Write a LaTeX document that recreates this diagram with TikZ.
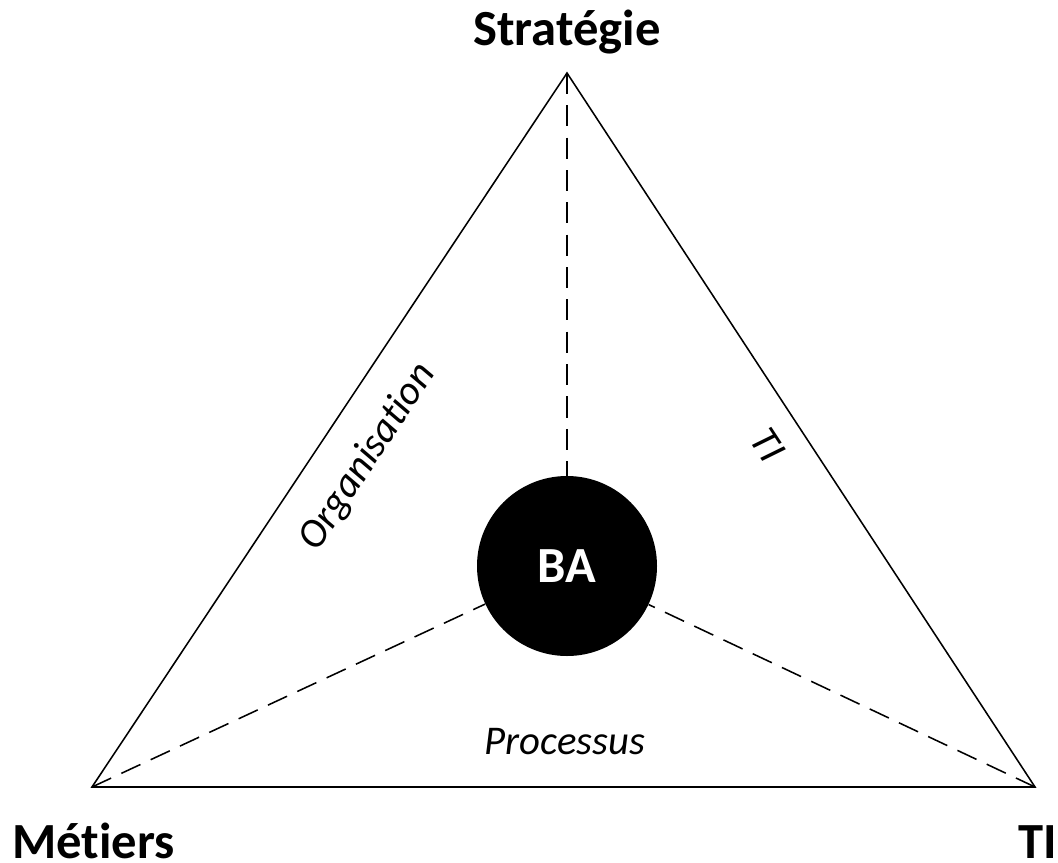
\documentclass[tikz,border=0pt]{standalone}
\usepackage{fontspec}
\setmainfont[Ligatures=NoCommon]{Carlito}
\begin{document}
\begin{tikzpicture}[x=0.025cm,y=-0.025cm,
  edge/.style={line width=1.1pt},
  spoke/.style={line width=1.1pt,dash pattern=on 15pt off 8pt},
  corner/.style={font=\fontsize{36}{40}\selectfont\bfseries,inner sep=0pt},
  side/.style={font=\fontsize{29}{32}\selectfont\itshape,inner sep=0pt}]
\useasboundingbox (0,0) rectangle (1058,862);
\coordinate (S) at (567,73);
\coordinate (M) at (92,787);
\coordinate (T) at (1035,787);
\draw[edge] (S) -- (M) -- (T) -- cycle;
\node[circle,fill=black,minimum size=0.025cm*180,inner sep=0pt,text=white,font=\fontsize{36}{40}\selectfont\bfseries] (BA) at (567,566) {BA};
\draw[spoke] (S) -- (BA.north);
\draw[spoke] (M) -- (BA);
\draw[spoke] (T) -- (BA);
\node[corner,anchor=base] (lS) at (567,45) {Stratégie};
\node[corner,anchor=base west] (lM) at (12,858) {Métiers};
\node[corner,anchor=base west] (lT) at (1018,858) {TI};
\node[side,rotate=56.4] (lO) at (368,457) {Organisation};
\node[side,rotate=-56.8] (lTI) at (768,445) {TI};
\node[side] (lP) at (565,742) {Processus};
\end{tikzpicture}
\end{document}
